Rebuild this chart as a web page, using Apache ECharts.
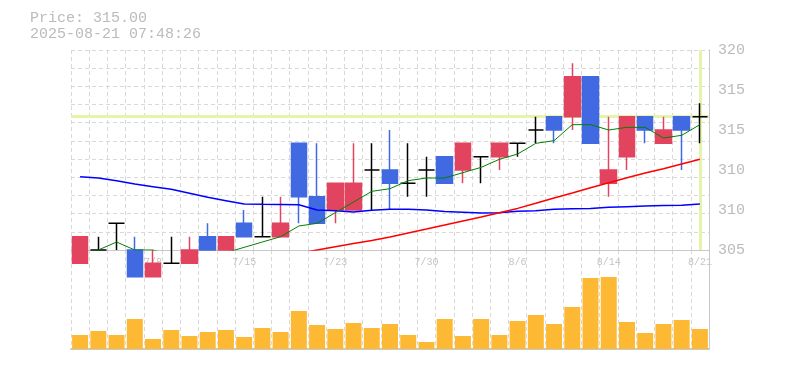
<!DOCTYPE html>
<html><head><meta charset="utf-8">
<script src="https://cdn.jsdelivr.net/npm/echarts@6/dist/echarts.min.js"></script>
<style>html,body{margin:0;padding:0;background:#fff}#c{width:785px;height:370px}</style>
</head><body><div id="c"></div>
<script>
var dates = ['7/2','7/3','7/4','7/7','7/8','7/9','7/10','7/11','7/14','7/15','7/16','7/17','7/18','7/22','7/23','7/24','7/25','7/28','7/29','7/30','7/31','8/1','8/4','8/5','8/6','8/7','8/8','8/12','8/13','8/14','8/15','8/18','8/19','8/20','8/21'];
var openP  = [304,305,307,305,303,304,304,306,305,307,306,306,313,309,308,308,311,311,310,311,312,311,312,312,313,314,315,315,318,310,312,315,313,315,315];
var closeP = [306,305,307,303,304,304,305,305,306,306,306,307,309,307,310,310,311,310,310,311,310,313,312,313,313,314,314,318,313,311,315,314,314,314,315];
var lowP   = [304,305,305,303,303,304,304,305,305,306,306,306,307,307,307,308,308,308,309,309,310,310,310,311,312,313,313,314,313,309,311,313,313,311,313];
var highP  = [306,306,307,306,305,306,306,307,306,308,309,309,313,313,310,313,313,314,313,312,312,313,312,313,313,315,315,319,318,315,315,315,315,315,316];
var ma5  = [304.8,305.0,305.6,305.0,305.0,304.6,304.6,304.2,304.8,305.2,305.6,306.0,306.8,307.0,307.8,308.6,309.4,309.6,310.2,310.4,310.4,310.8,311.2,311.8,312.2,313.0,313.2,314.4,314.4,314.0,314.2,314.2,313.4,313.6,314.4];
var ma25 = [310.5,310.4,310.2,309.95,309.75,309.55,309.25,308.95,308.7,308.45,308.43,308.42,308.4,308.0,307.95,307.85,307.98,308.05,308.05,308.0,307.88,307.83,307.78,307.8,307.9,307.95,308.05,308.1,308.12,308.2,308.25,308.3,308.33,308.35,308.45];
var ma75 = [null,null,null,null,null,null,null,null,null,null,null,null,304.75,305.0,305.24,305.48,305.72,305.97,306.27,306.57,306.88,307.18,307.48,307.79,308.12,308.5,308.9,309.28,309.67,310.05,310.42,310.77,311.1,311.45,311.8];
var volume = [1400,1800,1400,3000,1000,1900,1300,1700,1900,1200,2100,1700,3800,2400,2000,2600,2100,2500,1400,700,3000,1300,3000,1400,2800,3400,2500,4200,7100,7200,2700,1600,2500,2900,2000];
var yTickLabels = ['305','310','310','315','315','320'];
var currentPrice = 315;
var titleLines = ['Price: 315.00', '2025-08-21 07:48:26'];

var MONO = '"Liberation Mono", "DejaVu Sans Mono", monospace';
var gridDash = {show:true, lineStyle:{color:'#d9d9d9', type:[4,3], width:1}};
var candleData = dates.map(function(d,i){return [openP[i], closeP[i], lowP[i], highP[i]];});

var chart = echarts.init(document.getElementById('c'), null, {renderer:'canvas'});
chart.setOption({
  animation:false,
  backgroundColor:'#fff',
  title:{text:titleLines.join('\n'), left:30, top:10, padding:0,
    textStyle:{fontFamily:MONO, fontSize:15, fontWeight:'normal', color:'#bbbbbb', lineHeight:16}},
  grid:[
    {left:71, right:76, top:50, height:200},
    {left:71, right:76, top:250, height:99}
  ],
  xAxis:[
    {type:'category', gridIndex:0, data:dates, boundaryGap:true,
     axisLine:{show:true, lineStyle:{color:'#c8c8c8', width:1}}, axisTick:{show:false},
     axisLabel:{interval:function(i){return i%5===4;}, color:'#c4c4c4', fontSize:10, fontFamily:MONO, margin:7},
     splitLine:{show:true, interval:0, lineStyle:gridDash.lineStyle}},
    {type:'category', gridIndex:1, data:dates, boundaryGap:true,
     axisLine:{show:true, lineStyle:{color:'#c8c8c8', width:2}}, axisTick:{show:false}, axisLabel:{show:false},
     splitLine:{show:true, interval:0, lineStyle:gridDash.lineStyle}}
  ],
  yAxis:[
    {type:'value', gridIndex:0, min:305, max:320, show:false, scale:true},
    {type:'value', gridIndex:0, position:'right', min:0, max:15, interval:3,
     axisLine:{show:true, lineStyle:{color:'#c8c8c8', width:1}}, axisTick:{show:false}, splitLine:{show:false},
     axisLabel:{color:'#bbbbbb', fontSize:15, fontFamily:MONO, margin:9, padding:[6,0,0,0],
       formatter:function(v){return yTickLabels[Math.round(v/3)];}}},
    {type:'value', gridIndex:0, position:'left', min:0, max:11, interval:1,
     axisLine:{show:false}, axisTick:{show:false}, axisLabel:{show:false}, splitLine:gridDash},
    {type:'value', gridIndex:1, position:'right', min:0, max:9900,
     axisLine:{show:true, lineStyle:{color:'#c8c8c8', width:1}}, axisTick:{show:false}, axisLabel:{show:false}, splitLine:{show:false}}
  ],
  series:[
    {type:'line', xAxisIndex:0, yAxisIndex:0, data:[], z:1, silent:true,
     markLine:{silent:true, z:1, symbol:'none', label:{show:false}, animation:false,
       lineStyle:{color:'#e4f5ab', width:3, type:'solid'},
       data:[{yAxis:currentPrice},{xAxis:dates[dates.length-1]}]}},
    {type:'candlestick', xAxisIndex:0, yAxisIndex:0, data:candleData, barWidth:16, clip:false, z:3,
     itemStyle:{color:'#e2445f', color0:'#4169e1', borderColor:'#e2445f', borderColor0:'#4169e1', borderColorDoji:'#000000', borderWidth:1.5}},
    {type:'line', xAxisIndex:0, yAxisIndex:0, data:ma25, showSymbol:false, clip:true, z:4,
     lineStyle:{color:'#0000ff', width:1.5}},
    {type:'line', xAxisIndex:0, yAxisIndex:0, data:ma75, showSymbol:false, clip:true, z:4,
     lineStyle:{color:'#ff0000', width:1.5}},
    {type:'line', xAxisIndex:0, yAxisIndex:0, data:ma5, showSymbol:false, clip:true, z:4,
     lineStyle:{color:'#008000', width:1}},
    {type:'bar', xAxisIndex:1, yAxisIndex:3, data:volume, barWidth:16,
     itemStyle:{color:'#fdb934'}}
  ]
});
</script></body></html>
